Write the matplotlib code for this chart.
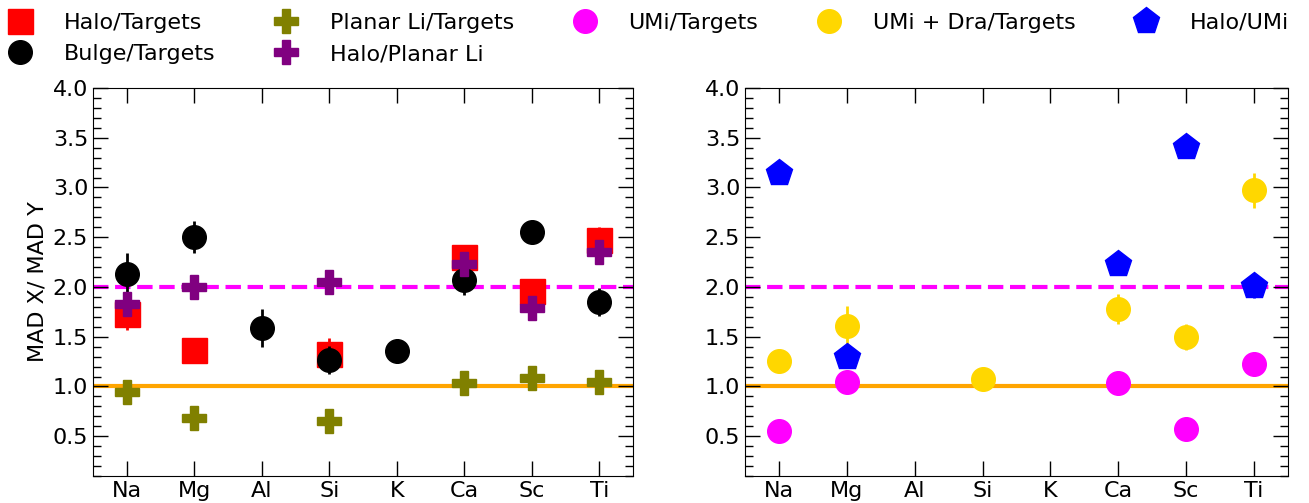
import numpy as np
import matplotlib
matplotlib.use("Agg")
import matplotlib.pyplot as plt
from matplotlib.ticker import MultipleLocator

nan = np.nan
elements = ["Na", "Mg", "Al", "Si", "K", "Ca", "Sc", "Ti"]

# Left panel
halo_targets = [1.73, 1.37, nan, 1.33, nan, 2.30, 1.96, 2.47]
halo_targets_err = [0.16, 0.05, nan, 0.16, nan, 0.05, 0.05, 0.13]
bulge_targets = [2.13, 2.50, 1.59, 1.27, 1.36, 2.07, 2.55, 1.85]
bulge_targets_err = [0.21, 0.16, 0.19, 0.14, 0.12, 0.15, 0.08, 0.14]
planar_targets = [0.94, 0.68, nan, 0.65, nan, 1.03, 1.09, 1.04]
halo_planar = [1.83, 2.00, nan, 2.05, nan, 2.23, 1.79, 2.35]

# Right panel
umi_targets = [0.55, 1.04, nan, nan, nan, 1.03, 0.57, 1.23]
umi_targets_err = [0.05, 0.05, nan, nan, nan, 0.05, 0.05, 0.12]
umidra_targets = [1.26, 1.61, nan, 1.07, nan, 1.78, 1.50, 2.97]
umidra_targets_err = [0.08, 0.20, nan, 0.05, nan, 0.15, 0.13, 0.18]
halo_umi = [3.15, 1.30, nan, nan, nan, 2.23, 3.41, 2.01]
halo_umi_err = [0.10, 0.10, nan, nan, nan, 0.10, 0.05, 0.12]

x = np.arange(len(elements))

fig = plt.figure(figsize=(13.09, 5.03), dpi=100)
axL = fig.add_axes([93/1309, 27/503, 540/1309, 388/503])
axR = fig.add_axes([745/1309, 27/503, 543/1309, 388/503])

FS = 16

def style(ax):
    ax.set_xlim(-0.5, 7.5)
    ax.set_ylim(0.1, 4.0)
    ax.set_xticks(x)
    ax.set_xticklabels(elements, fontsize=FS)
    ax.yaxis.set_major_locator(MultipleLocator(0.5))
    ax.yaxis.set_minor_locator(MultipleLocator(0.1))
    ax.tick_params(axis='both', which='both', direction='in', top=True, right=True, labelsize=FS)
    ax.tick_params(axis='both', which='major', length=11, width=1)
    ax.tick_params(axis='both', which='minor', length=5.5, width=1)
    ax.tick_params(axis='x', which='minor', bottom=False, top=False)
    ax.axhline(1.0, color='orange', lw=3, zorder=1)
    ax.axhline(2.0, color='magenta', lw=3, ls='--', zorder=1)

style(axL)
style(axR)

h1 = axL.errorbar(x, halo_targets, yerr=halo_targets_err, fmt='s', color='red', ms=18,
                  elinewidth=2, capsize=0, label='Halo/Targets', zorder=3)
h2 = axL.errorbar(x, bulge_targets, yerr=bulge_targets_err, fmt='o', color='black', ms=17,
                  elinewidth=2, capsize=0, label='Bulge/Targets', zorder=4)
h3, = axL.plot(x, planar_targets, 'P', color='olive', ms=17, ls='none',
               label='Planar Li/Targets', zorder=5)
h4, = axL.plot(x, halo_planar, 'P', color='purple', ms=17, ls='none',
               label='Halo/Planar Li', zorder=5)

h5 = axR.errorbar(x, umi_targets, yerr=umi_targets_err, fmt='o', color='magenta', ms=17,
                  elinewidth=2, capsize=0, label='UMi/Targets', zorder=3)
h6 = axR.errorbar(x, umidra_targets, yerr=umidra_targets_err, fmt='o', color='gold', ms=17,
                  elinewidth=2, capsize=0, label='UMi + Dra/Targets', zorder=4)
h7 = axR.errorbar(x, halo_umi, yerr=halo_umi_err, fmt='p', color='blue', ms=20,
                  elinewidth=2, capsize=0, label='Halo/UMi', zorder=5)

axL.set_ylabel('MAD X/ MAD Y', fontsize=FS)

handles = [h1, h2, h3, h4, h5, h6, h7]
labels = [h.get_label() for h in handles]
fig.legend(handles, labels, loc='upper center', bbox_to_anchor=(0.4916, 1.014), ncol=5,
           frameon=False, fontsize=FS, columnspacing=2.2, handletextpad=0.95)

fig.savefig('out.png', dpi=100)
